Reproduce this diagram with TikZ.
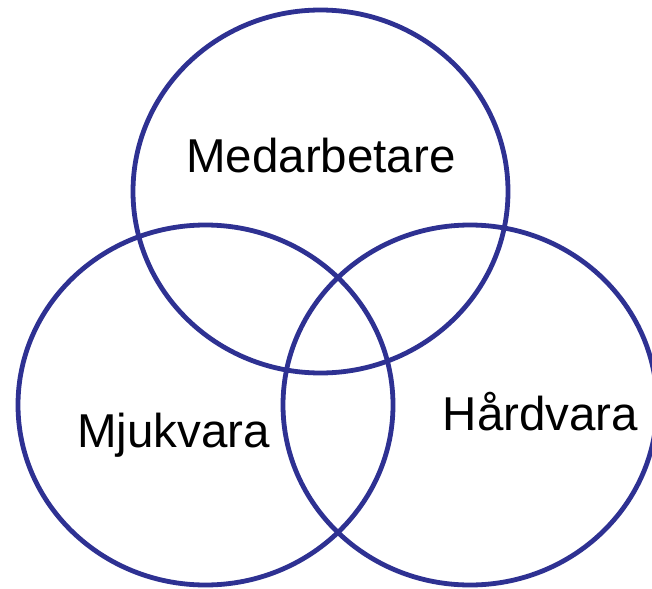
\documentclass[tikz,border=0pt]{standalone}
\usepackage{fontspec}
\setmainfont{Liberation Sans}
\usetikzlibrary{shapes.geometric}
\definecolor{ringblue}{RGB}{46,49,146}
\begin{document}
\begin{tikzpicture}[x=1pt,y=-1pt,
  ring/.style={ellipse, draw=ringblue, line width=4.8pt, inner sep=0pt},
  lbl/.style={inner sep=0pt, anchor=base, font=\fontsize{47.5}{56}\selectfont}]
\useasboundingbox[fill=white] (0,0) rectangle (652,588);
\node[ring, minimum width=375pt, minimum height=363pt] (top) at (320.5,191.5) {};
\node[ring, minimum width=375pt, minimum height=360pt] (left) at (205.5,405) {};
\node[ring, minimum width=374pt, minimum height=360pt] (right) at (470,405) {};
\node[lbl] (tm) at (321,172) {Medarbetare};
\node[lbl] (lm) at (173.5,447) {Mjukvara};
\node[lbl] (rm) at (540.5,430) {Hårdvara};
\end{tikzpicture}
\end{document}
